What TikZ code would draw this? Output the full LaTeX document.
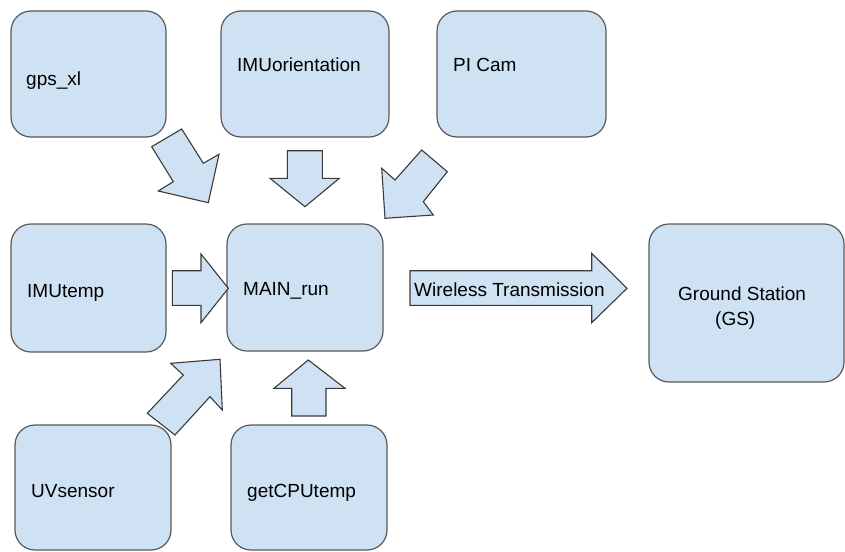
\documentclass[tikz,border=0pt]{standalone}
\usepackage{fontspec}
\setmainfont{Liberation Sans}
\definecolor{boxfill}{HTML}{CFE2F3}
\definecolor{boxline}{HTML}{595959}
\definecolor{arrline}{HTML}{3A3A3A}
\begin{document}
\begin{tikzpicture}[x=1pt,y=-1pt,
  box/.style={draw=boxline,fill=boxfill,line width=1.2pt,rounded corners=20pt,inner sep=0pt},
  lbl/.style={inner sep=0pt,anchor=base west,font=\fontsize{19}{22}\selectfont},
  blockarrow/.style={draw=arrline,fill=boxfill,line width=1.1pt,line join=miter}]
\useasboundingbox (0,0) rectangle (845,551);
% boxes
\node[box,minimum width=155pt,minimum height=126pt] (gps) at (88.5,74) {};
\node[box,minimum width=168pt,minimum height=126pt] (imuo) at (305,74) {};
\node[box,minimum width=169pt,minimum height=126pt] (picam) at (521.5,74) {};
\node[box,minimum width=155pt,minimum height=128pt] (imut) at (88.5,288) {};
\node[box,minimum width=156pt,minimum height=127pt] (main) at (305,287.5) {};
\node[box,minimum width=195pt,minimum height=158pt] (gs) at (746.5,303) {};
\node[box,minimum width=156pt,minimum height=125pt] (uv) at (93,487.5) {};
\node[box,minimum width=156pt,minimum height=125pt] (cpu) at (309,487.5) {};
% labels
\node[lbl] (gpsT) at (26,85) {gps\_xl};
\node[lbl] (imuoT) at (237,71) {IMUorientation};
\node[lbl] (picamT) at (453,71) {PI Cam};
\node[lbl] (imutT) at (27,297) {IMUtemp};
\node[lbl] (mainT) at (243,295) {MAIN\_run};
\node[lbl] (gsT) at (678,300.5) {Ground Station};
\node[lbl] (gsT2) at (715,325) {(GS)};
\node[lbl] (uvT) at (31,497) {UVsensor};
\node[lbl] (cpuT) at (247,497) {getCPUtemp};
% block arrows
\draw[blockarrow] (151.7,146.7) -- (181.7,129) -- (203.3,163.3) -- (219,154.3) -- (208.3,202.7) -- (158.3,191) -- (173.3,181.7) -- cycle;
\draw[blockarrow] (287.3,150.7) -- (322.3,150.7) -- (322.3,178.3) -- (339.3,178.3) -- (305,206.7) -- (270,178.3) -- (287.3,178.3) -- cycle;
\draw[blockarrow] (421.7,150) -- (447.3,171.7) -- (423.3,201.7) -- (433.3,215) -- (385,218.3) -- (381.7,168.3) -- (395,180) -- cycle;
\draw[blockarrow] (172.3,270.7) -- (201,270.7) -- (201,254) -- (228.3,288.3) -- (201,322.7) -- (201,305.3) -- (172.3,305.3) -- cycle;
\draw[blockarrow] (410,270.7) -- (591.7,270.7) -- (591.7,253.3) -- (627,288.3) -- (591.7,322.7) -- (591.7,305.3) -- (410,305.3) -- cycle;
\node[lbl] (wlT) at (414,296) {Wireless Transmission};
\draw[blockarrow] (308.3,360) -- (345,388.3) -- (326,388.3) -- (326,416) -- (291.7,416) -- (291.7,388.3) -- (274,388.3) -- cycle;
\draw[blockarrow] (170.7,363.3) -- (220,359.3) -- (222.3,410) -- (210,396.7) -- (175,435) -- (147.3,413.3) -- (183.3,375) -- cycle;
\end{tikzpicture}
\end{document}
